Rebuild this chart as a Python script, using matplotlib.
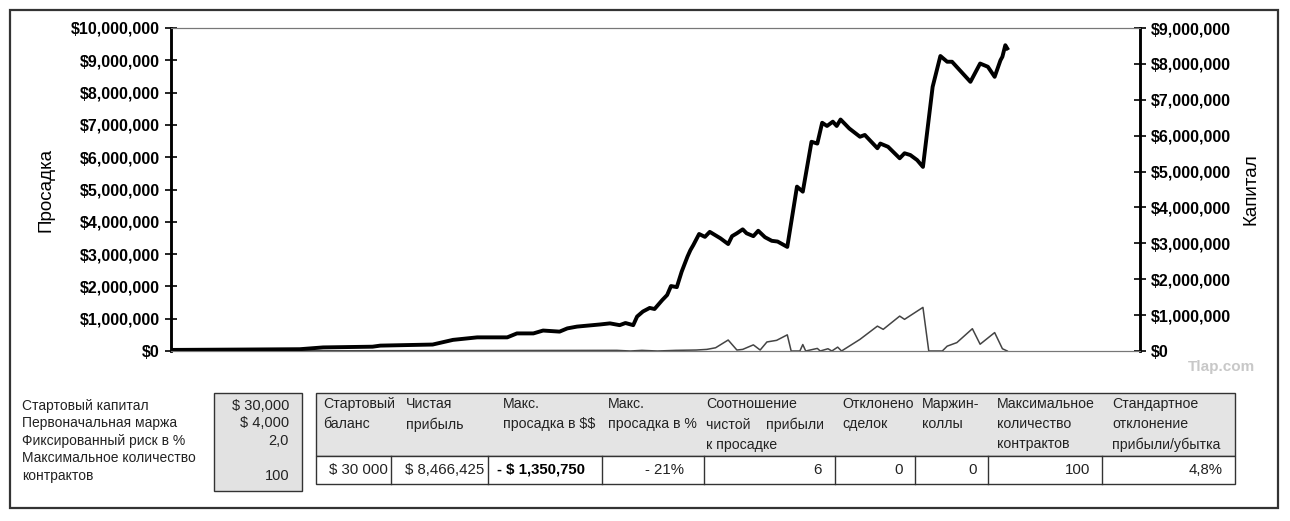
import matplotlib
matplotlib.use('Agg')
import matplotlib.pyplot as plt
from matplotlib.ticker import FuncFormatter, MultipleLocator
from matplotlib.patches import Rectangle

plt.rcParams['font.family'] = ['Liberation Sans', 'DejaVu Sans']
plt.rcParams['text.parse_math'] = False

# equity curve (right axis), x = position along the test in % of the axis
trade_eq = [0, 7.1, 13.3, 15.7, 20.8, 21.6, 27.0, 29.1, 31.6, 34.7, 35.7, 37.4, 38.4, 40.1,
            40.9, 41.9, 44.3, 45.3, 46.3, 46.9, 47.7, 48.1, 48.7, 49.4, 49.9, 50.7, 51.2,
            51.6, 52.2, 52.7, 53.3, 53.6, 53.9, 54.5, 55.1, 55.6, 56.7, 57.5, 57.9, 58.4,
            59.0, 59.4, 60.1, 60.6, 61.3, 62.0, 62.6, 63.6, 64.6, 65.2, 66.1, 66.7, 67.2,
            67.7, 68.3, 68.7, 69.1, 70.0, 71.1, 71.6, 72.9, 73.2, 74.0, 75.2, 75.7, 76.3,
            77.0, 77.6, 78.6, 79.4, 80.1, 80.6, 82.5, 83.5, 84.3, 85.0, 85.6, 85.8, 86.1, 86.3]
equity = [0.03, 0.04, 0.05, 0.10, 0.12, 0.15, 0.18, 0.31, 0.38, 0.38, 0.49, 0.49, 0.57, 0.54,
          0.63, 0.68, 0.74, 0.77, 0.72, 0.78, 0.72, 0.96, 1.10, 1.20, 1.17, 1.42, 1.56,
          1.81, 1.78, 2.21, 2.63, 2.81, 2.95, 3.26, 3.18, 3.32, 3.14, 2.98, 3.20, 3.28,
          3.39, 3.28, 3.20, 3.35, 3.17, 3.07, 3.05, 2.90, 4.58, 4.44, 5.83, 5.78, 6.36,
          6.27, 6.39, 6.27, 6.45, 6.20, 5.97, 6.02, 5.65, 5.78, 5.69, 5.37, 5.51, 5.46,
          5.32, 5.13, 7.36, 8.22, 8.06, 8.06, 7.50, 8.01, 7.92, 7.64, 8.10, 8.20, 8.52, 8.43]
equity = [v * 1e6 for v in equity]

# drawdown (left axis)
trade_dd = [0, 46.0, 47.4, 48.6, 50.2, 52.1, 54.2, 55.3, 56.2, 57.5, 58.4, 59.0, 60.1, 60.8,
            61.5, 62.5, 63.6, 64.0, 64.9, 65.2, 65.5, 66.7, 67.0, 67.8, 68.2, 68.8, 69.2,
            71.1, 72.9, 73.5, 75.2, 75.7, 77.6, 78.2, 79.6, 80.1, 81.1, 82.7, 83.5, 85.0,
            85.8, 86.3]
drawdown = [0, 0.02, 0, 0.02, 0, 0.02, 0.03, 0.05, 0.1, 0.34, 0.03, 0.05, 0.19, 0.03,
            0.28, 0.33, 0.50, 0, 0, 0.20, 0, 0.08, 0, 0.07, 0, 0.12, 0,
            0.36, 0.77, 0.67, 1.08, 0.98, 1.35, 0, 0, 0.15, 0.26, 0.69, 0.21, 0.57,
            0.07, 0]
drawdown = [v * 1e6 for v in drawdown]

W, H = 1290, 521
fig = plt.figure(figsize=(W / 100, H / 100), dpi=100)


def fx(x):
    return x / W


def fy(y):
    return 1 - y / H


# outer frame
fig.add_artist(Rectangle((fx(10), fy(508)), fx(1268), (498) / H, transform=fig.transFigure,
                         fill=False, edgecolor='#333333', linewidth=1.6))

ax = fig.add_axes([fx(171), fy(351), fx(1140 - 171), (351 - 28) / H])
ax2 = ax.twinx()

ax.plot(trade_dd, drawdown, color='#444444', linewidth=1.1)
ax2.plot(trade_eq, equity, color='black', linewidth=2.8, solid_joinstyle='round')

money = FuncFormatter(lambda v, p: f"${v:,.0f}")
ax.set_xlim(0, 100)
ax.set_ylim(0, 10e6)
ax2.set_ylim(0, 9e6)
ax.yaxis.set_major_locator(MultipleLocator(1e6))
ax2.yaxis.set_major_locator(MultipleLocator(1e6))
ax.yaxis.set_major_formatter(money)
ax2.yaxis.set_major_formatter(money)
ax.set_xticks([])

for a in (ax, ax2):
    a.tick_params(axis='y', direction='inout', length=8, width=1.2, labelsize=11.5, pad=4)
    for lab in a.get_yticklabels():
        lab.set_fontweight('bold')
    a.spines['top'].set_color('#777777')
    a.spines['bottom'].set_color('#777777')
    a.spines['left'].set_linewidth(1.8)
    a.spines['right'].set_linewidth(1.8)

ax.set_ylabel('Просадка', fontsize=13.5, labelpad=12)
ax2.set_ylabel('Капитал', fontsize=13.5, labelpad=8)

fig.text(fx(1255), fy(367), 'Tlap.com', color='#c8c8c8', fontsize=11, fontweight='bold',
         ha='right', va='center')

# parameters block
param_names = ['Стартовый капитал', 'Первоначальная маржа', 'Фиксированный риск в %',
               'Максимальное количество', 'контрактов']
param_values = ['$ 30,000', '$ 4,000', '2,0', '', '100']
line_y = [406, 423, 441, 458, 476]
fs = 10.2

fig.add_artist(Rectangle((fx(214), fy(491)), fx(302 - 214), (491 - 393) / H,
                         transform=fig.transFigure, facecolor='#e2e2e2',
                         edgecolor='#333333', linewidth=1.0))
for name, val, y in zip(param_names, param_values, line_y):
    fig.text(fx(22), fy(y), name, fontsize=10, ha='left', va='center', color='#222222')
    fig.text(fx(289), fy(y), val, fontsize=10.5, ha='right', va='center', color='#222222')

# results table
headers = ['Стартовый\nбаланс', 'Чистая\nприбыль', 'Макс.\nпросадка в $$',
           'Макс.\nпросадка в %', 'Соотношение\nчистой    прибыли\nк просадке',
           'Отклонено\nсделок', 'Маржин-\nколлы', 'Максимальное\nколичество\nконтрактов',
           'Стандартное\nотклонение\nприбыли/убытка']
results = ['$ 30 000', '$ 8,466,425', '- $ 1,350,750', '- 21%', '6', '0', '0', '100', '4,8%']

col_edges = [316, 391, 488, 602, 704, 835, 915, 988, 1102, 1235]
head_x = [323, 406, 503, 608, 706, 842, 922, 997, 1112]
val_right = [388, 484, None, 684, 822, 903, 977, 1090, 1223]
top, mid, bot = 393, 456, 484

fig.add_artist(Rectangle((fx(316), fy(mid)), fx(1235 - 316), (mid - top) / H,
                         transform=fig.transFigure, facecolor='#e4e4e4',
                         edgecolor='#333333', linewidth=1.0))
fig.add_artist(Rectangle((fx(316), fy(bot)), fx(1235 - 316), (bot - mid) / H,
                         transform=fig.transFigure, facecolor='white',
                         edgecolor='#333333', linewidth=1.0))
for x in col_edges[1:-1]:
    fig.add_artist(plt.Line2D([fx(x), fx(x)], [fy(mid), fy(bot)], transform=fig.transFigure,
                              color='#333333', linewidth=1.0))

for h, x in zip(headers, head_x):
    fig.text(fx(x), fy(top + 4), h, fontsize=fs, ha='left', va='top', color='#222222',
             linespacing=1.55)

for i, r in enumerate(results):
    if val_right[i] is None:
        fig.text(fx(col_edges[i] + 9), fy(470), r, fontsize=10.8, ha='left', va='center',
                 fontweight='bold', color='black')
    else:
        fig.text(fx(val_right[i]), fy(470), r, fontsize=10.8, ha='right', va='center',
                 color='#222222')

fig.savefig('out.png', dpi=100)
